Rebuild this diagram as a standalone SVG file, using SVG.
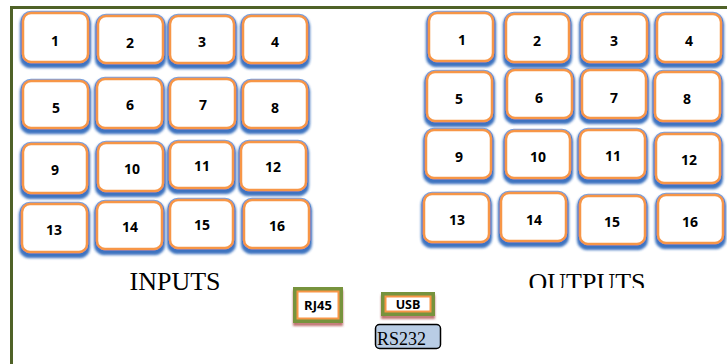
<svg xmlns="http://www.w3.org/2000/svg" width="727" height="364" viewBox="0 0 727 364">
  <defs>
    <filter id="glow" x="-30%" y="-30%" width="160%" height="170%">
      <feMorphology in="SourceAlpha" operator="dilate" radius="1" result="d"/>
      <feGaussianBlur in="d" stdDeviation="1.5" result="b"/>
      <feOffset in="b" dy="3" result="o"/>
      <feFlood flood-color="#3f74c0"/>
      <feComposite in2="o" operator="in" result="s"/>
      <feMerge><feMergeNode in="s"/><feMergeNode in="s"/><feMergeNode in="SourceGraphic"/></feMerge>
    </filter>
    <filter id="redshadow" x="-30%" y="-30%" width="160%" height="180%">
      <feGaussianBlur in="SourceAlpha" stdDeviation="1.2" result="b"/>
      <feOffset in="b" dy="3" result="o"/>
      <feFlood flood-color="#b0504d" flood-opacity="0.8"/>
      <feComposite in2="o" operator="in" result="s"/>
      <feMerge><feMergeNode in="s"/><feMergeNode in="SourceGraphic"/></feMerge>
    </filter>
    <clipPath id="labelclip"><rect x="0" y="0" width="727" height="288"/></clipPath>
  </defs>
  <style>
    .port rect { fill: #ffffff; stroke: #f79646; stroke-width: 2.5; filter: url(#glow); }
    .port .rim { fill: none; stroke: #5b8fd6; stroke-width: 4.5; opacity: 0.8; filter: none; }
    .port text { font-family: "Open Sans", "Liberation Sans", sans-serif; font-weight: bold; font-size: 14px; fill: #000; text-anchor: middle; dominant-baseline: central; }
    .title { font-family: "Liberation Serif", serif; font-size: 26px; fill: #000; text-anchor: middle; }
    .iface .outer { fill: none; stroke: #77933c; stroke-width: 4; filter: url(#redshadow); }
    .iface .inner { fill: #ffffff; stroke: #f79646; stroke-width: 2; }
    .iface text { font-family: "Open Sans", "Liberation Sans", sans-serif; font-weight: bold; font-size: 12.5px; fill: #000; text-anchor: middle; dominant-baseline: central; }
  </style>
  <rect width="727" height="364" fill="#ffffff"/>

  <!-- enclosure frame -->
  <path d="M11.5 364 V7.5 H727" fill="none" stroke="#4f6228" stroke-width="3"/>

  <!-- input ports -->
  <g id="inputs">
    <g id="in1" class="port"><rect class="rim" x="23" y="13" width="65" height="49" rx="8"/><rect x="23" y="13" width="65" height="49" rx="8"/><text x="55" y="40">1</text></g>
    <g id="in2" class="port"><rect class="rim" x="98" y="16" width="65" height="47" rx="8"/><rect x="98" y="16" width="65" height="47" rx="8"/><text x="130" y="42">2</text></g>
    <g id="in3" class="port"><rect class="rim" x="170" y="16" width="64" height="47" rx="8"/><rect x="170" y="16" width="64" height="47" rx="8"/><text x="202" y="41">3</text></g>
    <g id="in4" class="port"><rect class="rim" x="243" y="16" width="64" height="47" rx="8"/><rect x="243" y="16" width="64" height="47" rx="8"/><text x="275" y="41">4</text></g>

    <g id="in5" class="port"><rect class="rim" x="23" y="81" width="65" height="47" rx="8"/><rect x="23" y="81" width="65" height="47" rx="8"/><text x="56" y="107">5</text></g>
    <g id="in6" class="port"><rect class="rim" x="97" y="79" width="65" height="49" rx="8"/><rect x="97" y="79" width="65" height="49" rx="8"/><text x="130" y="104">6</text></g>
    <g id="in7" class="port"><rect class="rim" x="170" y="79" width="65" height="49" rx="8"/><rect x="170" y="79" width="65" height="49" rx="8"/><text x="203" y="104">7</text></g>
    <g id="in8" class="port"><rect class="rim" x="243" y="81" width="64" height="47" rx="8"/><rect x="243" y="81" width="64" height="47" rx="8"/><text x="275" y="107">8</text></g>

    <g id="in9" class="port"><rect class="rim" x="23" y="144" width="64" height="49" rx="8"/><rect x="23" y="144" width="64" height="49" rx="8"/><text x="55" y="169">9</text></g>
    <g id="in10" class="port"><rect class="rim" x="98" y="143" width="65" height="48" rx="8"/><rect x="98" y="143" width="65" height="48" rx="8"/><text x="132" y="168">10</text></g>
    <g id="in11" class="port"><rect class="rim" x="170" y="142" width="63" height="46" rx="8"/><rect x="170" y="142" width="63" height="46" rx="8"/><text x="202" y="165">11</text></g>
    <g id="in12" class="port"><rect class="rim" x="241" y="142" width="65" height="48" rx="8"/><rect x="241" y="142" width="65" height="48" rx="8"/><text x="273" y="166">12</text></g>

    <g id="in13" class="port"><rect class="rim" x="22" y="204" width="65" height="48" rx="8"/><rect x="22" y="204" width="65" height="48" rx="8"/><text x="54" y="229">13</text></g>
    <g id="in14" class="port"><rect class="rim" x="97" y="202" width="65" height="47" rx="8"/><rect x="97" y="202" width="65" height="47" rx="8"/><text x="130" y="226">14</text></g>
    <g id="in15" class="port"><rect class="rim" x="170" y="200" width="63" height="48" rx="8"/><rect x="170" y="200" width="63" height="48" rx="8"/><text x="202" y="224">15</text></g>
    <g id="in16" class="port"><rect class="rim" x="244" y="200" width="65" height="48" rx="8"/><rect x="244" y="200" width="65" height="48" rx="8"/><text x="277" y="225">16</text></g>
  </g>

  <!-- output ports -->
  <g id="outputs">
    <g id="out1" class="port"><rect class="rim" x="429" y="13" width="64" height="48" rx="8"/><rect x="429" y="13" width="64" height="48" rx="8"/><text x="462" y="39">1</text></g>
    <g id="out2" class="port"><rect class="rim" x="506" y="14" width="63" height="48" rx="8"/><rect x="506" y="14" width="63" height="48" rx="8"/><text x="537" y="40">2</text></g>
    <g id="out3" class="port"><rect class="rim" x="582" y="14" width="65" height="48" rx="8"/><rect x="582" y="14" width="65" height="48" rx="8"/><text x="614" y="40">3</text></g>
    <g id="out4" class="port"><rect class="rim" x="657" y="14" width="64" height="48" rx="8"/><rect x="657" y="14" width="64" height="48" rx="8"/><text x="689" y="40">4</text></g>

    <g id="out5" class="port"><rect class="rim" x="427" y="72" width="65" height="49" rx="8"/><rect x="427" y="72" width="65" height="49" rx="8"/><text x="459" y="98">5</text></g>
    <g id="out6" class="port"><rect class="rim" x="507" y="70" width="65" height="48" rx="8"/><rect x="507" y="70" width="65" height="48" rx="8"/><text x="539" y="97">6</text></g>
    <g id="out7" class="port"><rect class="rim" x="582" y="70" width="64" height="48" rx="8"/><rect x="582" y="70" width="64" height="48" rx="8"/><text x="614" y="97">7</text></g>
    <g id="out8" class="port"><rect class="rim" x="655" y="72" width="65" height="49" rx="8"/><rect x="655" y="72" width="65" height="49" rx="8"/><text x="687" y="98">8</text></g>

    <g id="out9" class="port"><rect class="rim" x="426" y="130" width="65" height="48" rx="8"/><rect x="426" y="130" width="65" height="48" rx="8"/><text x="459" y="156">9</text></g>
    <g id="out10" class="port"><rect class="rim" x="506" y="131" width="64" height="47" rx="8"/><rect x="506" y="131" width="64" height="47" rx="8"/><text x="538" y="156">10</text></g>
    <g id="out11" class="port"><rect class="rim" x="580" y="130" width="65" height="48" rx="8"/><rect x="580" y="130" width="65" height="48" rx="8"/><text x="613" y="155">11</text></g>
    <g id="out12" class="port"><rect class="rim" x="656" y="134" width="64" height="49" rx="8"/><rect x="656" y="134" width="64" height="49" rx="8"/><text x="689" y="159">12</text></g>

    <g id="out13" class="port"><rect class="rim" x="424" y="194" width="65" height="48" rx="8"/><rect x="424" y="194" width="65" height="48" rx="8"/><text x="457" y="219">13</text></g>
    <g id="out14" class="port"><rect class="rim" x="501" y="193" width="65" height="48" rx="8"/><rect x="501" y="193" width="65" height="48" rx="8"/><text x="534" y="219">14</text></g>
    <g id="out15" class="port"><rect class="rim" x="580" y="196" width="65" height="48" rx="8"/><rect x="580" y="196" width="65" height="48" rx="8"/><text x="612" y="221">15</text></g>
    <g id="out16" class="port"><rect class="rim" x="658" y="195" width="65" height="48" rx="8"/><rect x="658" y="195" width="65" height="48" rx="8"/><text x="690" y="221">16</text></g>
  </g>

  <!-- section captions -->
  <text class="title" x="175" y="290">INPUTS</text>
  <text class="title" x="587" y="291" clip-path="url(#labelclip)">OUTPUTS</text>

  <!-- control interfaces -->
  <g id="rj45" class="iface">
    <rect class="outer" x="295" y="289" width="46" height="32"/>
    <rect class="inner" x="297.5" y="291.5" width="41" height="27"/>
    <text x="318" y="305" style="font-size:13px">RJ45</text>
  </g>
  <g id="usb" class="iface">
    <rect class="outer" x="383" y="294" width="50" height="20"/>
    <rect class="inner" x="385.5" y="296.5" width="45" height="15"/>
    <text x="408" y="304.5">USB</text>
  </g>
  <g id="rs232">
    <rect x="375.5" y="324.5" width="65" height="24" rx="4" fill="#b9cde5" stroke="#000" stroke-width="1.5"/>
    <text x="377" y="345" font-family="'Liberation Serif', serif" font-size="18" fill="#000">RS232</text>
  </g>
</svg>
